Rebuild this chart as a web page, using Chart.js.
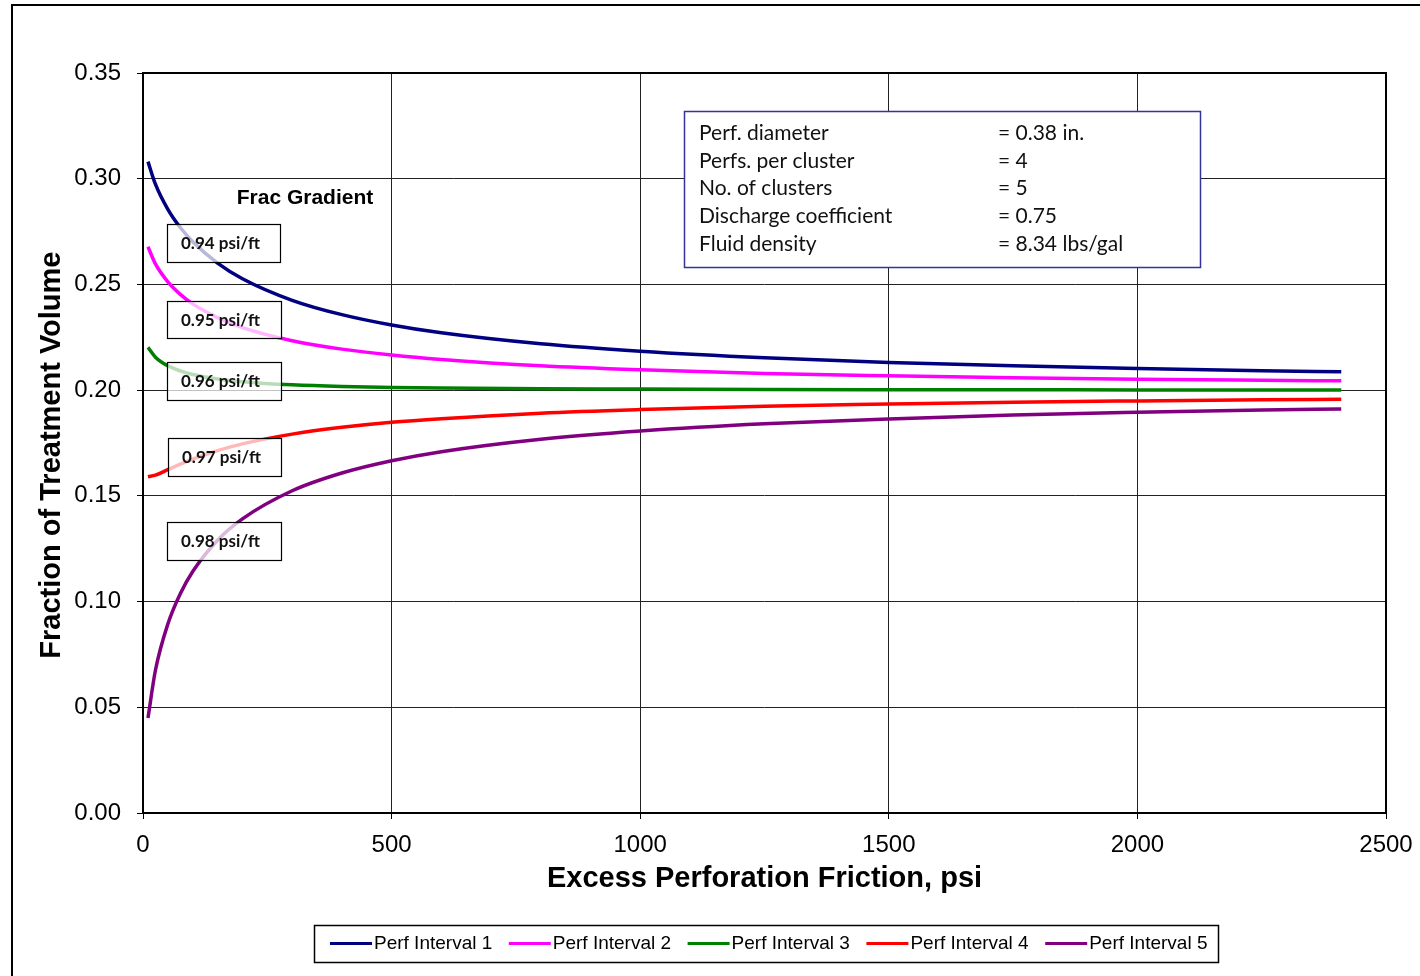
<!DOCTYPE html>
<html>
<head>
<meta charset="utf-8">
<script src="https://cdn.jsdelivr.net/npm/chart.js@4/dist/chart.umd.min.js"></script>
<style>
  html, body { margin: 0; padding: 0; background: #fff; }
  #wrap { position: absolute; left: 0; top: 0; width: 1420px; height: 976px; }
</style>
</head>
<body>
<div id="wrap"><canvas id="myChart" width="1420" height="976"></canvas></div>
<script>
// friction values (psi) where the curves were read
const friction = [10, 25, 50, 75, 100, 150, 200, 300, 400, 500, 600, 800, 1000, 1250, 1500, 1750, 2000, 2250, 2410];

const interval1 = [0.3081, 0.2974, 0.2855, 0.2769, 0.2702, 0.2601, 0.2527, 0.2425, 0.2357, 0.2308, 0.2271, 0.2219, 0.2184, 0.2153, 0.2131, 0.2115, 0.2102, 0.2092, 0.2087];
const interval2 = [0.2678, 0.2597, 0.2512, 0.2453, 0.2408, 0.2343, 0.2296, 0.2234, 0.2194, 0.2166, 0.2145, 0.2115, 0.2096, 0.2079, 0.2068, 0.2059, 0.2052, 0.2047, 0.2044];
const interval3 = [0.2202, 0.2156, 0.2115, 0.2091, 0.2074, 0.2053, 0.2040, 0.2025, 0.2017, 0.2013, 0.2010, 0.2006, 0.2005, 0.2003, 0.2002, 0.2002, 0.2001, 0.2001, 0.2001];
const interval4 = [0.1590, 0.1598, 0.1624, 0.1650, 0.1674, 0.1714, 0.1746, 0.1792, 0.1824, 0.1848, 0.1865, 0.1891, 0.1908, 0.1924, 0.1934, 0.1943, 0.1949, 0.1954, 0.1957];
const interval5 = [0.0449, 0.0675, 0.0894, 0.1037, 0.1142, 0.1290, 0.1391, 0.1524, 0.1608, 0.1666, 0.1709, 0.1768, 0.1807, 0.1841, 0.1864, 0.1882, 0.1895, 0.1906, 0.1911];

const seriesNames = ['Perf Interval 1', 'Perf Interval 2', 'Perf Interval 3', 'Perf Interval 4', 'Perf Interval 5'];
const seriesColors = ['#000080', '#FF00FF', '#008000', '#FF0000', '#800080'];

const gradientLabels = ['0.94 psi/ft', '0.95 psi/ft', '0.96 psi/ft', '0.97 psi/ft', '0.98 psi/ft'];
const paramNames = ['Perf. diameter', 'Perfs. per cluster', 'No. of clusters', 'Discharge coefficient', 'Fluid density'];
const paramValues = ['= 0.38 in.', '= 4', '= 5', '= 0.75', '= 8.34 lbs/gal'];

const allSeries = [interval1, interval2, interval3, interval4, interval5];

// kotak-kotak tambahan: frame, label gradien, kotak parameter, legenda
const extras = {
    id: 'extras',
    beforeDraw(chart) {
        const ctx = chart.ctx;
        ctx.save();
        ctx.fillStyle = '#fff';
        ctx.fillRect(0, 0, chart.width, chart.height);
        ctx.restore();
    },
    afterDatasetsDraw(chart) {
        const ctx = chart.ctx;
        const a = chart.chartArea;
        ctx.save();

        // plot border
        ctx.strokeStyle = '#000';
        ctx.lineWidth = 2;
        ctx.strokeRect(a.left, a.top, a.right - a.left, a.bottom - a.top);

        // outer frame
        ctx.beginPath();
        ctx.moveTo(12, chart.height);
        ctx.lineTo(12, 5);
        ctx.lineTo(chart.width, 5);
        ctx.stroke();

        // Frac Gradient
        ctx.fillStyle = '#000';
        ctx.font = 'bold 21px "Liberation Sans"';
        ctx.textAlign = 'center';
        ctx.textBaseline = 'middle';
        ctx.fillText('Frac Gradient', 305, 198);

        const boxes = [[167, 224, 113, 38], [167, 301, 114, 37], [167, 362, 114, 38], [168, 438, 113, 38], [167, 522, 114, 38]];
        ctx.font = 'bold 17px Lato';
        ctx.textAlign = 'left';
        boxes.forEach((b, i) => {
            ctx.fillStyle = 'rgba(255,255,255,0.72)';
            ctx.fillRect(b[0], b[1], b[2], b[3]);
            ctx.strokeStyle = '#000';
            ctx.lineWidth = 1.2;
            ctx.strokeRect(b[0] + 0.5, b[1] + 0.5, b[2], b[3]);
            ctx.fillStyle = '#111';
            ctx.fillText(gradientLabels[i], b[0] + 14, b[1] + b[3] / 2 + 1);
        });

        // parameter box
        ctx.fillStyle = '#fff';
        ctx.fillRect(684, 111, 516, 156);
        ctx.strokeStyle = '#333399';
        ctx.lineWidth = 1.5;
        ctx.strokeRect(684.5, 111.5, 516, 156);
        ctx.fillStyle = '#111';
        ctx.font = '21px Lato';
        paramNames.forEach((n, i) => {
            const y = 133 + i * 27.8;
            ctx.fillText(n, 699, y);
            ctx.fillText(paramValues[i], 998, y);
        });

        // legend
        ctx.fillStyle = '#fff';
        ctx.fillRect(314, 925, 904, 37);
        ctx.strokeStyle = '#000';
        ctx.lineWidth = 1.5;
        ctx.strokeRect(314.5, 925.5, 904, 37);
        ctx.font = '19px "Liberation Sans"';
        chart.data.datasets.forEach((ds, i) => {
            const x = 330 + i * 178.8;
            ctx.strokeStyle = ds.borderColor;
            ctx.lineWidth = 3;
            ctx.beginPath();
            ctx.moveTo(x, 943.5);
            ctx.lineTo(x + 42, 943.5);
            ctx.stroke();
            ctx.fillStyle = '#000';
            ctx.fillText(ds.label, x + 44, 944);
        });

        ctx.restore();
    }
};

const ctx = document.getElementById('myChart').getContext('2d');
const myChart = new Chart(ctx, {
    type: 'line',
    data: {
        datasets: allSeries.map((vals, i) => ({
            label: seriesNames[i],
            data: friction.map((f, j) => ({ x: f, y: vals[j] })),
            borderColor: seriesColors[i],
            backgroundColor: seriesColors[i],
            borderWidth: 3.5,
            pointRadius: 0,
            cubicInterpolationMode: 'monotone',
            fill: false
        }))
    },
    options: {
        responsive: false,
        animation: false,
        layout: { padding: { top: 73, right: 34, left: 0, bottom: 0 } },
        plugins: {
            legend: { display: false },
            tooltip: { enabled: false }
        },
        scales: {
            x: {
                type: 'linear',
                min: 0,
                max: 2500,
                ticks: { stepSize: 500, color: '#000', font: { family: 'Liberation Sans', size: 24 }, padding: 12, maxRotation: 0, callback: v => String(v) },
                grid: { color: '#222', lineWidth: 1, tickLength: 6, tickColor: '#000' },
                border: { display: false },
                title: { display: true, text: 'Excess Perforation Friction, psi', color: '#000', font: { family: 'Liberation Sans', size: 29, weight: 'bold' }, padding: { top: 0, bottom: 80 } },
                afterFit(scale) {
                    scale.height = 163;
                    scale.paddingLeft = 0;
                    scale.paddingRight = 0;
                }
            },
            y: {
                min: 0,
                max: 0.35,
                ticks: { stepSize: 0.05, color: '#000', font: { family: 'Liberation Sans', size: 24 }, padding: 16, callback: v => v.toFixed(2) },
                grid: { color: '#222', lineWidth: 1, tickLength: 6, tickColor: '#000' },
                border: { display: false },
                title: { display: true, text: 'Fraction of Treatment Volume   ', color: '#000', font: { family: 'Liberation Sans', size: 29, weight: 'bold' }, padding: { top: 35, bottom: 0 } },
                afterFit(scale) {
                    scale.width = 143;
                    scale.paddingTop = 0;
                    scale.paddingBottom = 0;
                }
            }
        }
    },
    plugins: [extras]
});
</script>
</body>
</html>
